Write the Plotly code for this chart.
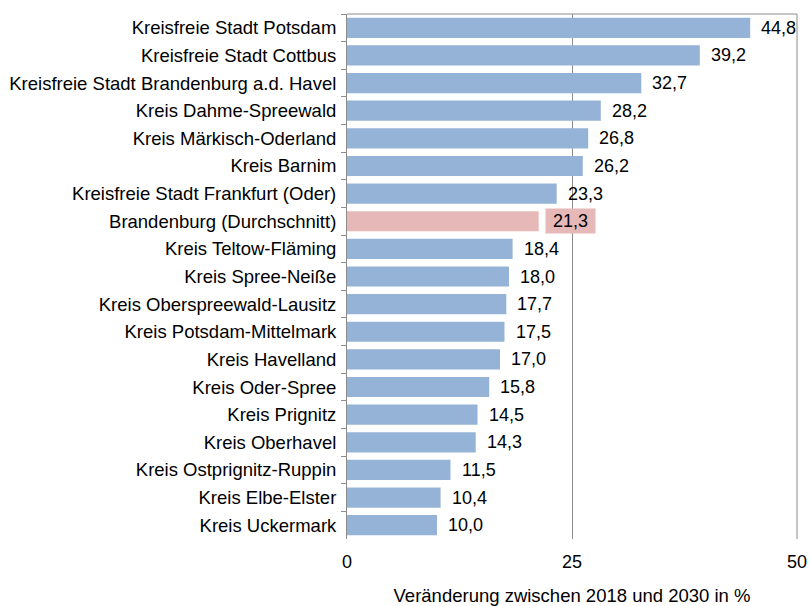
import plotly.graph_objects as go

categories = [
    "Kreisfreie Stadt Potsdam",
    "Kreisfreie Stadt Cottbus",
    "Kreisfreie Stadt Brandenburg a.d. Havel",
    "Kreis Dahme-Spreewald",
    "Kreis Märkisch-Oderland",
    "Kreis Barnim",
    "Kreisfreie Stadt Frankfurt (Oder)",
    "Brandenburg (Durchschnitt)",
    "Kreis Teltow-Fläming",
    "Kreis Spree-Neiße",
    "Kreis Oberspreewald-Lausitz",
    "Kreis Potsdam-Mittelmark",
    "Kreis Havelland",
    "Kreis Oder-Spree",
    "Kreis Prignitz",
    "Kreis Oberhavel",
    "Kreis Ostprignitz-Ruppin",
    "Kreis Elbe-Elster",
    "Kreis Uckermark",
]
values = [44.8, 39.2, 32.7, 28.2, 26.8, 26.2, 23.3, 21.3, 18.4, 18.0, 17.7,
          17.5, 17.0, 15.8, 14.5, 14.3, 11.5, 10.4, 10.0]
average_label = "Brandenburg (Durchschnitt)"
x_ticks = [0, 25, 50]
x_title = "Veränderung zwischen 2018 und 2030 in %"

BLUE = "#95B3D7"
PINK = "#E6B9B8"
GRID = "#8c8c8c"
FONT = "Liberation Sans, Arial, sans-serif"

colors = [PINK if c == average_label else BLUE for c in categories]

fig = go.Figure(go.Bar(
    x=values, y=categories, orientation="h",
    marker=dict(color=colors, line=dict(width=0)),
    hoverinfo="skip",
))

def fmt(v):
    return f"{v:.1f}".replace(".", ",")

for c, v in zip(categories, values):
    is_avg = c == average_label
    fig.add_annotation(
        x=v, y=c,
        text=("&nbsp;" + fmt(v) + "&nbsp;") if is_avg else fmt(v),
        showarrow=False,
        xanchor="left", xshift=(6 if is_avg else 10),
        font=dict(family=FONT, size=18, color="#000"),
        bgcolor=PINK if is_avg else None,
        borderpad=2 if is_avg else 0,
    )

# top border and right gridline at 50
fig.add_shape(type="line", xref="x domain", yref="y domain",
              x0=0, x1=1, y0=1, y1=1, line=dict(color=GRID, width=1))
fig.add_shape(type="line", xref="x domain", yref="y domain",
              x0=1, x1=1, y0=0, y1=1, line=dict(color=GRID, width=1))

fig.update_layout(
    width=810, height=606,
    margin=dict(l=347, r=13, t=14, b=67),
    plot_bgcolor="white", paper_bgcolor="white",
    bargap=0.27,
    showlegend=False,
    font=dict(family=FONT, size=18, color="#000"),
    xaxis=dict(
        range=[0, 50], tickvals=x_ticks, ticktext=[str(t) for t in x_ticks],
        showgrid=True, gridcolor=GRID, gridwidth=1,
        zeroline=False, showline=False, ticks="",
        tickfont=dict(family=FONT, size=18, color="#000"),
        ticklabelstandoff=10, ticklabeloverflow="allow",
        title=dict(text=x_title, font=dict(family=FONT, size=18.5, color="#000"),
                   standoff=20),
        automargin=False,
        fixedrange=True,
    ),
    yaxis=dict(
        autorange="reversed", type="category",
        showline=True, linecolor=GRID, linewidth=1,
        ticks="outside", tickson="boundaries", ticklen=5, tickcolor=GRID,
        showgrid=False, zeroline=False,
        tickfont=dict(family=FONT, size=18.5, color="#000"),
        ticklabelstandoff=6,
        automargin=False,
        fixedrange=True,
    ),
)

fig.write_html(
    "out.html",
    config={"displayModeBar": False},
    post_script="document.body.style.margin='0';document.body.style.overflow='hidden';",
)
